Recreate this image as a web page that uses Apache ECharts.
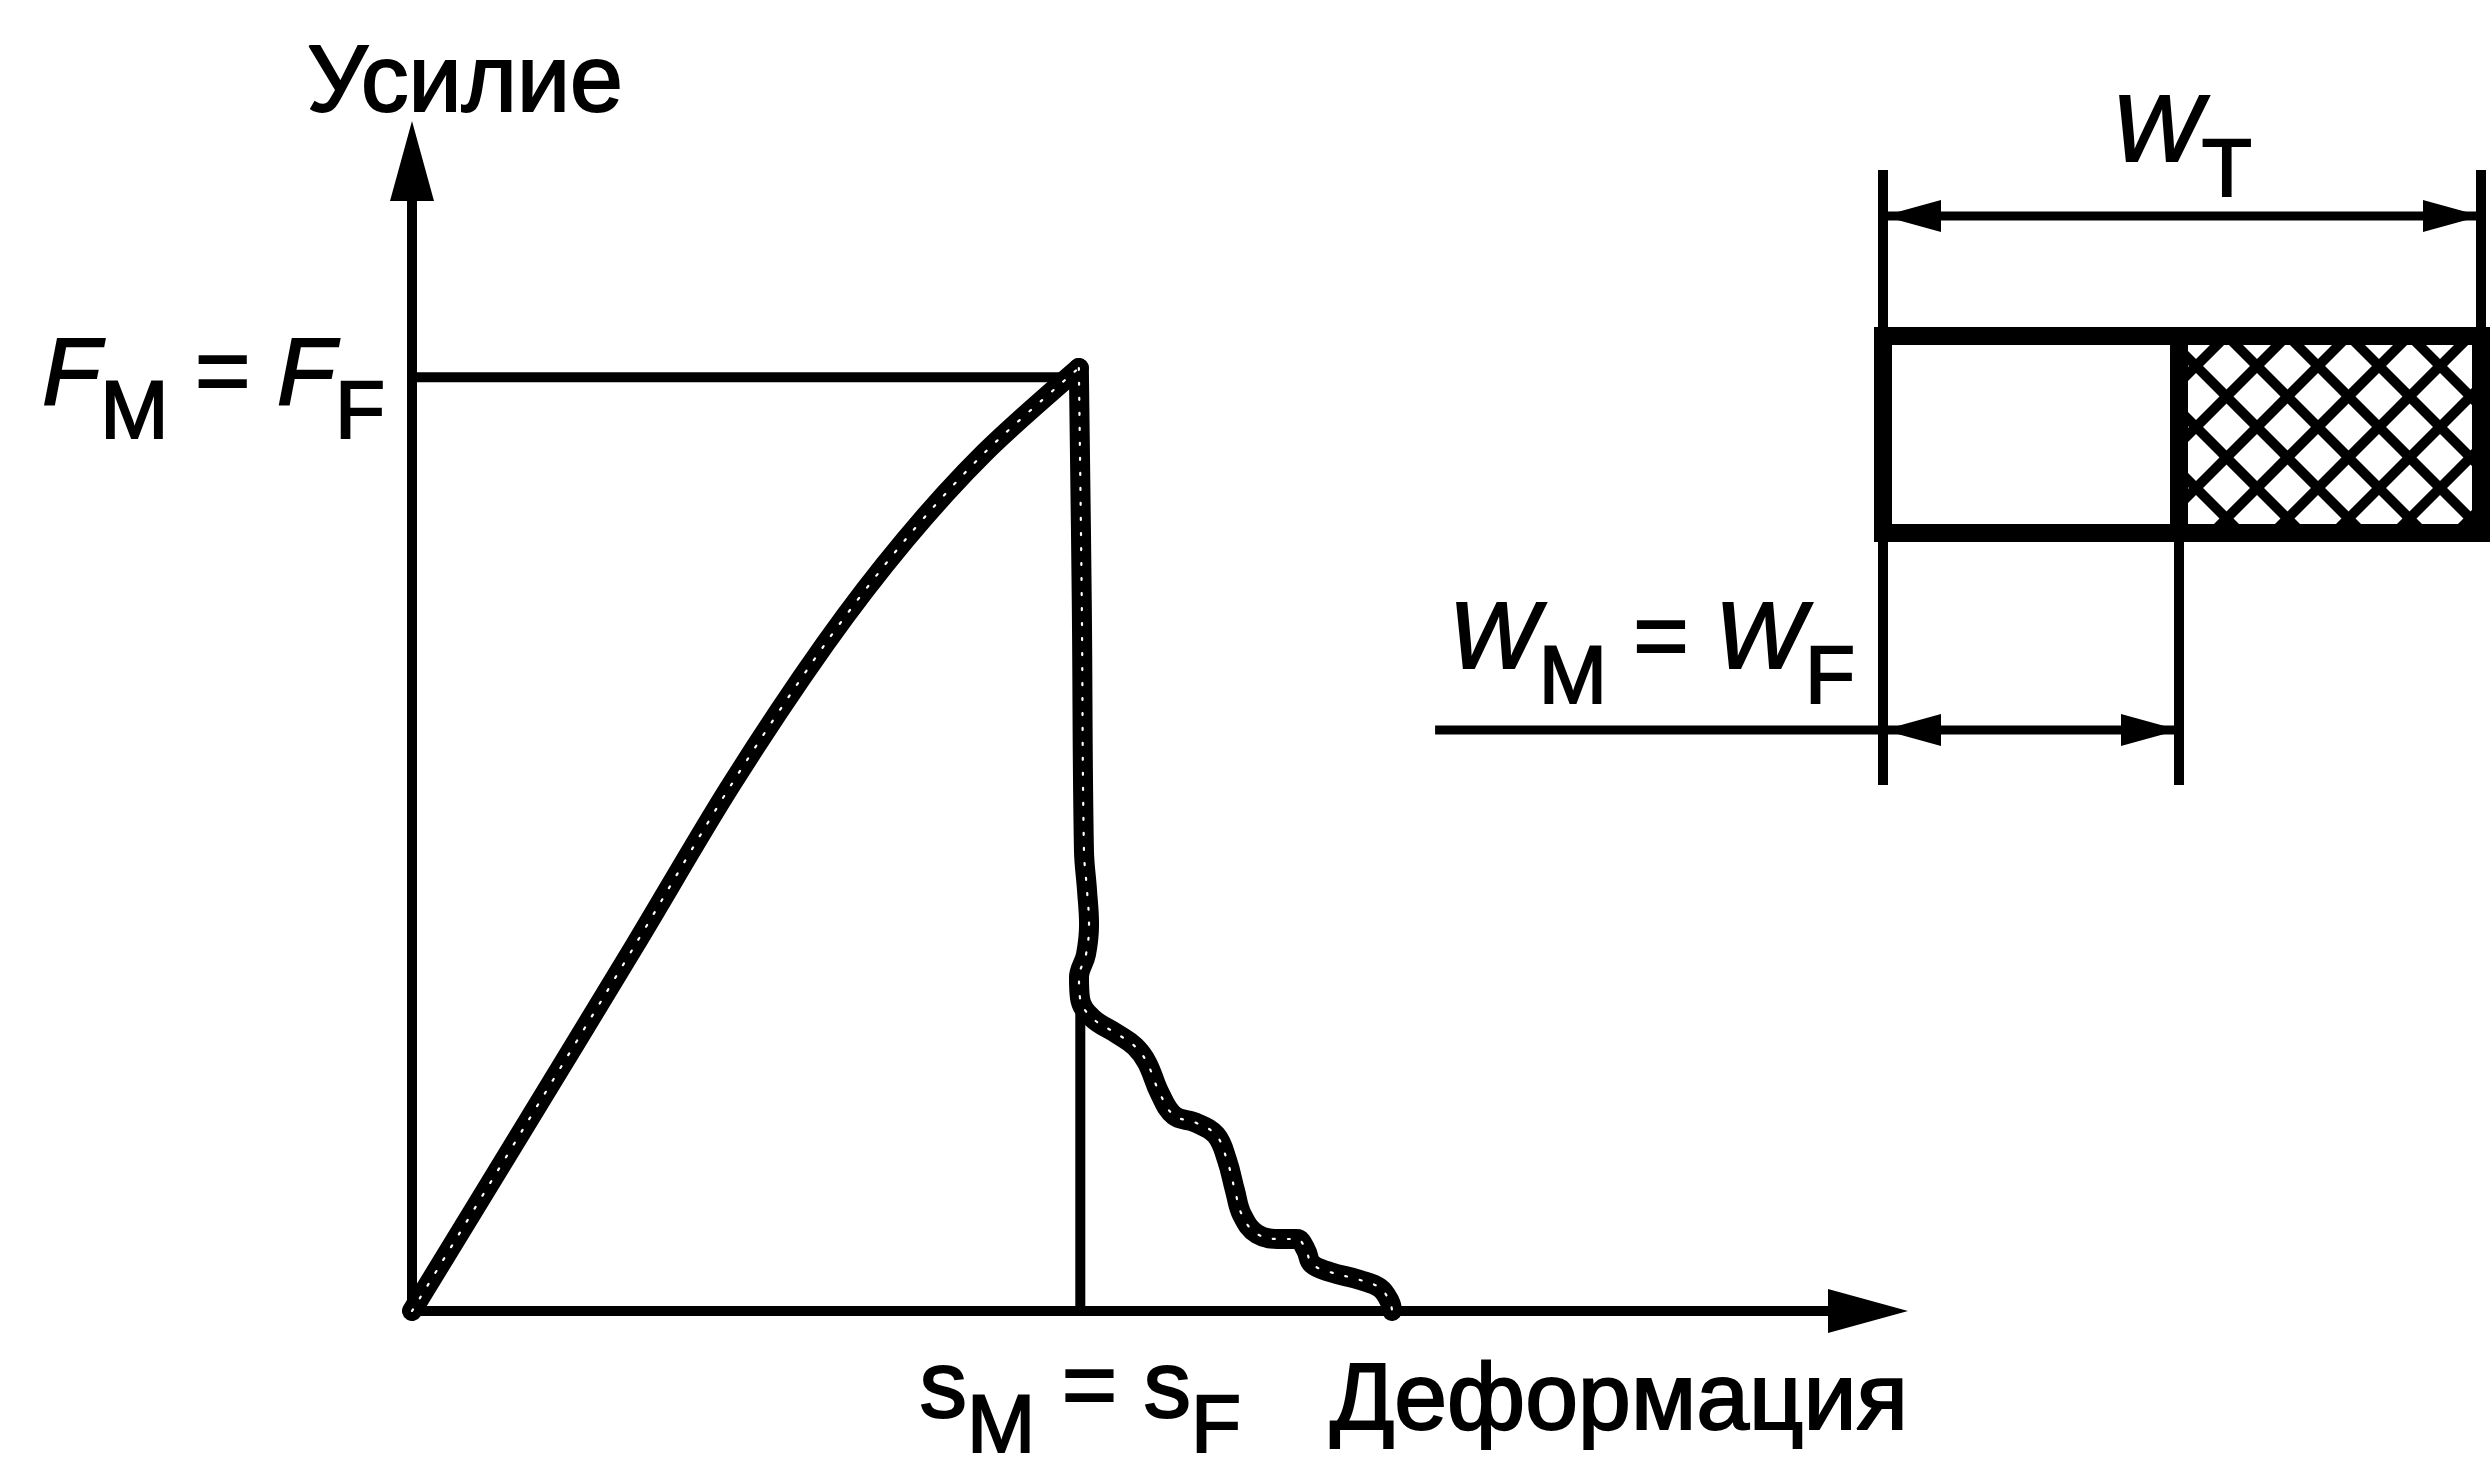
<!DOCTYPE html>
<html>
<head>
<meta charset="utf-8">
<script src="https://cdn.jsdelivr.net/npm/echarts@6/dist/echarts.min.js"></script>
<style>
html,body{margin:0;padding:0;background:#fff;}
#chart{width:2490px;height:1460px;}
</style>
</head>
<body>
<div id="chart"></div>
<script>
// ---------- data (force–deformation curve, arbitrary units 0..100) ----------
const risingCurve = [
  [0, 0], [7.7, 15.96], [15.33, 31.84], [21.87, 45.65], [28.42, 58.08],
  [33.87, 67.05], [39.33, 74.64], [45.8, 82.0]
];
const fallingCurve = [
  [45.8, 82.0], [46.0, 61.8], [46.15, 40.1], [46.36, 36.6], [46.5, 33.6], [46.29, 31.0],
  [45.81, 29.0], [45.88, 27.2], [46.7, 25.5], [48.42, 24.1], [49.66, 23.0], [50.48, 21.6],
  [51.37, 18.9], [52.34, 17.0], [53.78, 16.4], [55.22, 15.3], [55.98, 13.1], [56.52, 10.5],
  [57.01, 8.35], [58.04, 6.7], [59.75, 6.26], [60.78, 6.26], [61.4, 5.3], [61.81, 4.09],
  [63.05, 3.39], [65.11, 2.7], [66.48, 2.0], [67.17, 0.78], [67.31, 0]
];
const maxForce = 81.2;        // F_M = F_F
const maxDeformation = 45.9;  // s_M = s_F
const dropLineTop = 25.9;     // where the thin s_M line meets the curve

// ---------- specimen sketch (width units, W_T = 100) ----------
const totalWidth = 100;       // W_T
const failedWidth = 49.5;     // W_M = W_F
const specimenEdges = [23.6, 43.3];   // top / bottom of the cross-section
const dimLines = [11.6, 63.0];        // W_T line, W_M line
const extensionRange = [7.0, 68.5];
const leaderStart = -74.9;

// ---------- texts ----------
const forceLabel = '{i|F}{s|M}{n| = }{i|F}{s|F}';
const deformLabel = '{n|s}{s|M}{n| = s}{s|F}';
const totalLabel = '{i|W}{s|T}';
const failedLabel = '{i|W}{s|M}{n| = }{i|W}{s|F}';
const yName = 'Усилие';
const xName = 'Деформация';

const FONT = "'Liberation Sans', Arial, Helvetica, sans-serif";
const MAIN = 95, SUB = 82, LH = 80, D = 38, BW = 2;
// rich styles for axis labels (ECharts option names)
function richStyles() {
  const t = (extra) => Object.assign({fontFamily: FONT, color: '#000',
    textBorderColor: '#000', textBorderWidth: BW, lineHeight: LH}, extra);
  return {
    i: t({fontSize: MAIN, fontStyle: 'italic', padding: [D, 0, D, 0]}),
    n: t({fontSize: MAIN, padding: [D, 0, D, 0]}),
    s: t({fontSize: SUB, padding: [2 * D, 0, 0, 0]})
  };
}
// rich styles for graphic text (zrender names)
function zrRich() {
  const t = (extra) => Object.assign({fontFamily: FONT, fill: '#000',
    stroke: '#000', lineWidth: BW, lineHeight: LH}, extra);
  return {
    i: t({fontSize: MAIN, fontStyle: 'italic', padding: [D, 0, D, 0]}),
    n: t({fontSize: MAIN, padding: [D, 0, D, 0]}),
    s: t({fontSize: SUB, padding: [2 * D, 0, 0, 0]})
  };
}

// cross-hatch pattern
const hatch = document.createElement('canvas');
hatch.width = 61; hatch.height = 61;
(function () {
  const c = hatch.getContext('2d');
  c.fillStyle = '#fff'; c.fillRect(0, 0, 61, 61);
  c.strokeStyle = '#000'; c.lineWidth = 10;
  for (let k = -1; k <= 1; k++) {
    c.beginPath(); c.moveTo(k * 61 - 10, -10); c.lineTo(k * 61 + 71, 71); c.stroke();
    c.beginPath(); c.moveTo(k * 61 + 71, -10); c.lineTo(k * 61 - 10, 71); c.stroke();
  }
})();

const chart = echarts.init(document.getElementById('chart'), null, {renderer: 'canvas'});

const axisLineStyle = {color: '#000', width: 10};
const nameStyle = {fontSize: MAIN, fontFamily: FONT, color: '#000', textBorderColor: '#000', textBorderWidth: BW, lineHeight: 100};
const curveStyle = {color: '#000', width: 20, cap: 'round', join: 'round'};
const stippleStyle = {color: '#fff', width: 2.2, type: [2, 13], cap: 'round', join: 'round'};

const option = {
  animation: false,
  backgroundColor: '#fff',
  grid: [
    {left: 412, top: 161, width: 1456, height: 1150, outerBoundsMode: 'none'},
    {left: 1404.6, width: 1076.4, top: 100, height: 1000, outerBoundsMode: 'none'}
  ],
  xAxis: [
    {
      type: 'value', gridIndex: 0, min: 0, max: 100,
      axisLine: {show: true, lineStyle: axisLineStyle, symbol: ['none', 'triangle'], symbolSize: [44, 80]},
      axisTick: {show: false}, splitLine: {show: false},
      axisLabel: {
        customValues: [maxDeformation], margin: 40,
        formatter: () => deformLabel, rich: richStyles()
      },
      name: xName, nameLocation: 'end', nameGap: 40,
      nameTextStyle: Object.assign({align: 'right', verticalAlign: 'top', padding: [42, 0, 0, 0]}, nameStyle)
    },
    {type: 'value', gridIndex: 1, min: -80, max: 100, show: false}
  ],
  yAxis: [
    {
      type: 'value', gridIndex: 0, min: 0, max: 100,
      axisLine: {show: true, lineStyle: axisLineStyle, symbol: ['none', 'triangle'], symbolSize: [44, 80]},
      axisTick: {show: false}, splitLine: {show: false},
      axisLabel: {
        customValues: [maxForce], margin: 27,
        formatter: () => forceLabel, rich: richStyles()
      },
      name: yName, nameLocation: 'end', nameGap: 26,
      nameTextStyle: Object.assign({padding: [0, 0, 0, 106]}, nameStyle)
    },
    {type: 'value', gridIndex: 1, min: 0, max: 100, inverse: true, show: false}
  ],
  series: [
    {
      type: 'line', xAxisIndex: 0, yAxisIndex: 0, showSymbol: false, silent: true,
      data: [[0, maxForce], [risingCurve[risingCurve.length - 1][0], maxForce]],
      lineStyle: {color: '#000', width: 10}
    },
    {
      type: 'line', xAxisIndex: 0, yAxisIndex: 0, showSymbol: false, silent: true,
      data: [[maxDeformation, dropLineTop], [maxDeformation, 0]],
      lineStyle: {color: '#000', width: 10}
    },
    {
      type: 'line', xAxisIndex: 0, yAxisIndex: 0, showSymbol: false, silent: true, smooth: 0.3,
      data: risingCurve, lineStyle: curveStyle
    },
    {
      type: 'line', xAxisIndex: 0, yAxisIndex: 0, showSymbol: false, silent: true, smooth: 0.4,
      data: fallingCurve, lineStyle: curveStyle
    },
    {
      type: 'line', xAxisIndex: 0, yAxisIndex: 0, showSymbol: false, silent: true, smooth: 0.3,
      data: risingCurve, lineStyle: stippleStyle
    },
    {
      type: 'line', xAxisIndex: 0, yAxisIndex: 0, showSymbol: false, silent: true, smooth: 0.4,
      data: fallingCurve, lineStyle: stippleStyle
    },
    {
      type: 'custom', xAxisIndex: 1, yAxisIndex: 1, silent: true,
      data: [[0, 0]],
      renderItem: function (params, api) {
        const P = (x, y) => api.coord([x, y]);
        const ln = (a, b, w) => ({type: 'line', shape: {x1: a[0], y1: a[1], x2: b[0], y2: b[1]}, style: {stroke: '#000', lineWidth: w}});
        const arrow = (tip, from) => {
          const dx = tip[0] - from[0], dy = tip[1] - from[1];
          const len = Math.hypot(dx, dy), ux = dx / len, uy = dy / len;
          const bx = tip[0] - ux * 58, by = tip[1] - uy * 58;
          return {type: 'polygon', shape: {points: [tip, [bx - uy * 16, by + ux * 16], [bx + uy * 16, by - ux * 16]]}, style: {fill: '#000'}};
        };
        const [top, bot] = specimenEdges;
        const tl = P(0, top), br = P(totalWidth, bot), dv = P(failedWidth, top);
        const children = [];
        children.push({type: 'rect', shape: {x: dv[0], y: tl[1], width: br[0] - dv[0], height: br[1] - tl[1]},
          style: {fill: {image: hatch, repeat: 'repeat'}}});
        children.push({type: 'rect', shape: {x: tl[0], y: tl[1], width: br[0] - tl[0], height: br[1] - tl[1]},
          style: {fill: null, stroke: '#000', lineWidth: 18}});
        children.push(ln(P(failedWidth, top), P(failedWidth, bot), 18));
        children.push(ln(P(0, extensionRange[0]), P(0, extensionRange[1]), 10));
        children.push(ln(P(totalWidth, extensionRange[0]), P(totalWidth, top), 10));
        children.push(ln(P(failedWidth, bot), P(failedWidth, extensionRange[1]), 10));
        const a1 = P(0, dimLines[0]), a2 = P(totalWidth, dimLines[0]);
        children.push(ln(a1, a2, 9), arrow(a1, a2), arrow(a2, a1));
        const b0 = P(leaderStart, dimLines[1]), b1 = P(0, dimLines[1]), b2 = P(failedWidth, dimLines[1]);
        children.push(ln(b0, b2, 9), arrow(b1, b2), arrow(b2, b1));
        const lt = P(totalWidth / 2, dimLines[0]);
        children.push({type: 'text', x: lt[0], y: lt[1] - 41,
          style: {legacy: false, text: totalLabel, rich: zrRich(), align: 'center', verticalAlign: 'bottom', fill: '#000'}});
        children.push({type: 'text', x: b1[0] - 28, y: b1[1] - 48,
          style: {legacy: false, text: failedLabel, rich: zrRich(), align: 'right', verticalAlign: 'bottom', fill: '#000'}});
        return {type: 'group', children: children};
      }
    }
  ]
};
chart.setOption(option);
</script>
</body>
</html>
